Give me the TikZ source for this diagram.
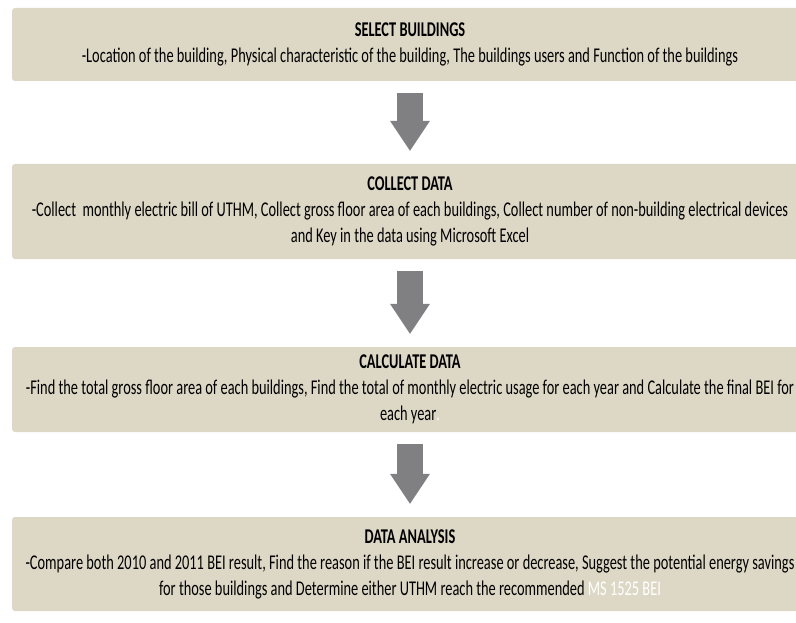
\documentclass[tikz,border=0pt]{standalone}
\usepackage{fontspec}
\setmainfont{Carlito}[FakeStretch=0.685]
\usetikzlibrary{arrows.meta}
\definecolor{boxfill}{RGB}{221,216,197}
\definecolor{arrowgray}{RGB}{128,128,131}

\begin{document}
\begin{tikzpicture}[x=1pt,y=-1pt]
\tikzset{stage/.style = {fill=boxfill,rounded corners=3pt,minimum width=796pt,align=center,inner sep=0pt,font=\fontsize{21}{26}\selectfont}}
\tikzset{flow/.style = {draw=arrowgray,line width=26pt,-{Triangle[width=40pt,length=30pt,line width=0pt]},shorten <=12pt,shorten >=13pt}}
\useasboundingbox (0,0) rectangle (796,623);
\clip (0,0) rectangle (796,623);
\node[stage,minimum height=73pt] (select) at (410,44.5) {{\bfseries SELECT BUILDINGS}\\-Location of the building, Physical characteristic of the building, The buildings users and Function of the buildings};
\node[stage,minimum height=95pt] (collect) at (410,211.5) {{\bfseries COLLECT DATA}\\-Collect\ \ monthly electric bill of UTHM, Collect gross floor area of each buildings, Collect number of non-building electrical devices\\and Key in the data using Microsoft Excel};
\node[stage,minimum height=85pt] (calc) at (410,389.5) {{\bfseries CALCULATE DATA}\\-Find the total gross floor area of each buildings, Find the total of monthly electric usage for each year and Calculate the final BEI for\\each year\textcolor{white}{.}};
\node[stage,minimum height=94pt] (analysis) at (410,564) {{\bfseries DATA ANALYSIS}\\-Compare both 2010 and 2011 BEI result, Find the reason if the BEI result increase or decrease, Suggest the potential energy savings\\for those buildings and Determine either UTHM reach the recommended \textcolor{white}{MS 1525 BEI}};
\draw[flow] (select) to (collect);
\draw[flow] (collect) to (calc);
\draw[flow] (calc) to (analysis);
\end{tikzpicture}
\end{document}
